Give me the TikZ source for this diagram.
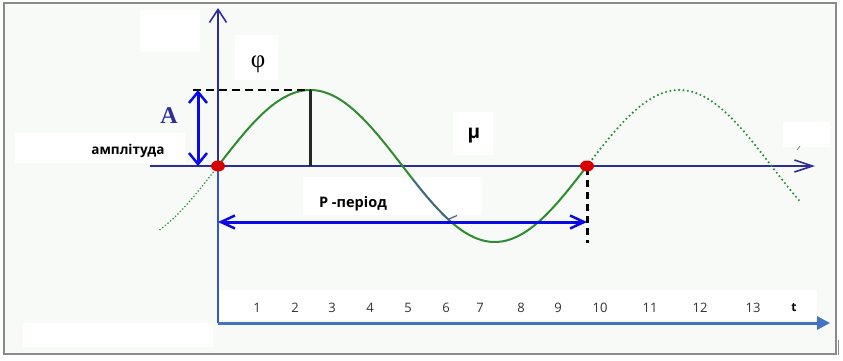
\documentclass[tikz,border=0pt]{standalone}
\usepackage{fontspec}
\setmainfont{Liberation Serif}
\newfontfamily\lblfont{Open Sans}
\usetikzlibrary{arrows.meta,shapes.geometric}
\definecolor{navyax}{HTML}{2E2E9A}
\definecolor{lowax}{HTML}{4472C4}
\definecolor{vlow}{HTML}{3556CC}
\definecolor{brightblue}{HTML}{0A0AE6}
\definecolor{sinegreen}{HTML}{2E8B2E}
\definecolor{dotgreen}{HTML}{2A9038}
\definecolor{bgc}{HTML}{F8FAF8}
\definecolor{framec}{HTML}{8A8A8A}
\definecolor{slate}{HTML}{4A5E9A}
\definecolor{numc}{HTML}{333333}
\tikzset{
  patch/.style={fill=white, draw=none},
  numlbl/.style={font=\lblfont\fontsize{13}{13}\selectfont, text=numc, inner sep=0pt},
  boldlbl/.style={font=\lblfont\bfseries\fontsize{13.5}{13.5}\selectfont, text=black, inner sep=0pt},
  reddot/.style={ellipse, fill=red!85!black, draw=none, minimum width=14pt, minimum height=11pt, inner sep=0pt},
}
\begin{document}
\begin{tikzpicture}[x=1pt,y=-1pt]
\useasboundingbox (0,0) rectangle (843,360);
% background and patches
\fill[bgc] (4,3) rectangle (836,354);
\fill[patch] (140,10) rectangle (200,52);
\fill[patch] (235,35) rectangle (278,80);
\fill[patch] (15,133) rectangle (185,163);
\fill[patch] (453,112) rectangle (493,155);
\fill[patch] (783,122) rectangle (830,147);
\fill[patch] (303,177) rectangle (482,215);
\fill[patch] (220,290) rectangle (817,320);
\fill[patch] (23,323) rectangle (213,347);
\draw[framec, line width=1.5pt] (4,3) rectangle (836,354);
\draw[framec, line width=1pt] (838,340) -- (838,355);
% coordinates
\coordinate (O) at (218,166);
\coordinate (ytop) at (218,8);
\coordinate (corner) at (218,323);
\coordinate (tend) at (830,323);
\coordinate (xl) at (150,166);
\coordinate (xr) at (815,166);
\coordinate (Z2) at (587,166);
\coordinate (pk) at (310.5,90);
\coordinate (pkb) at (310.5,166);
\coordinate (dl) at (193,90);
\coordinate (A1) at (198,90);
\coordinate (A2) at (198,166);
\coordinate (P1) at (218,222);
\coordinate (P2) at (587,222);
\coordinate (D1) at (587,168);
\coordinate (D2) at (587,243);
% axes
\draw[vlow, line width=1.8pt] (corner) -- (O);
\draw[navyax, line width=1.6pt, -{Straight Barb[length=13pt,width=17pt,line width=1.6pt]}] (O) -- (ytop);
\draw[lowax, line width=3pt, -{Triangle[length=13pt,width=13pt]}] (corner) -- (tend);
\draw[navyax, line width=1.5pt, -{Straight Barb[length=18pt,width=12pt,line width=1.6pt]}] (xl) -- (xr);
% sine curve
\draw[dotgreen, line width=1.8pt, dash pattern=on 0pt off 3.4pt, line cap=round, domain=160:218, samples=40] plot (\x, {166-76*sin((\x-218)/369*360)});
\draw[dotgreen, line width=2.4pt, dash pattern=on 0pt off 4.4pt, line cap=round, domain=587:800, samples=120] plot (\x, {166-76*sin((\x-218)/369*360)});
\draw[sinegreen, line width=2pt, domain=218:587, samples=150] plot (\x, {166-76*sin((\x-218)/369*360)});
\draw[slate, line width=1.4pt, domain=413:449, samples=30] plot (\x, {166-76*sin((\x-218)/369*360)});
\coordinate (tk1) at (449,219);
\coordinate (tk2) at (457,215.5);
\draw[slate, line width=1.2pt] (tk1) -- (tk2);
\coordinate (mk1) at (797,150);
\coordinate (mk2) at (800,146);
\draw[gray, line width=0.8pt] (mk1) -- (mk2);
% amplitude helpers
\draw[black, line width=1.5pt, dash pattern=on 8pt off 5pt] (dl) -- (pk);
\draw[black!85, line width=2.6pt] (pk) -- (pkb);
\draw[brightblue, line width=3pt, {Straight Barb[length=11pt,width=18pt,line width=2.5pt]}-{Straight Barb[length=11pt,width=18pt,line width=2.5pt]}] (A1) -- (A2);
% period
\draw[brightblue, line width=3pt, {Straight Barb[length=14pt,width=13pt,line width=2.5pt]}-{Straight Barb[length=14pt,width=13pt,line width=2.5pt]}] (P1) -- (P2);
\draw[black, line width=3pt, dash pattern=on 7pt off 5pt] (D1) -- (D2);
% red dots
\node[reddot] (z1) at (O) {};
\node[reddot] (z2) at (Z2) {};
% labels
\node[font=\bfseries\fontsize{24}{24}\selectfont, text=navyax, inner sep=0pt] (Alab) at (169,116) {A};
\node[font=\fontsize{25}{25}\selectfont, inner sep=0pt] (phi) at (258,64) {φ};
\node[boldlbl] (ampl) at (128,151) {амплітуда};
\node[font=\lblfont\bfseries\fontsize{19}{19}\selectfont, inner sep=0pt] (mu) at (474,136) {μ};
\node[boldlbl, font=\lblfont\bfseries\fontsize{14.5}{14.5}\selectfont] (per) at (353,204) {P -період};
\node[numlbl] (n1) at (257,308) {1};
\node[numlbl] (n2) at (295,308) {2};
\node[numlbl] (n3) at (332,308) {3};
\node[numlbl] (n4) at (370,308) {4};
\node[numlbl] (n5) at (408,308) {5};
\node[numlbl] (n6) at (446,308) {6};
\node[numlbl] (n7) at (480,308) {7};
\node[numlbl] (n8) at (521,308) {8};
\node[numlbl] (n9) at (558,308) {9};
\node[numlbl] (n10) at (600,308) {10};
\node[numlbl] (n11) at (650,308) {11};
\node[numlbl] (n12) at (700,308) {12};
\node[numlbl] (n13) at (753,308) {13};
\node[numlbl, font=\lblfont\bfseries\fontsize{12}{12}\selectfont, text=black] (tl) at (794,308) {t};
\end{tikzpicture}
\end{document}
